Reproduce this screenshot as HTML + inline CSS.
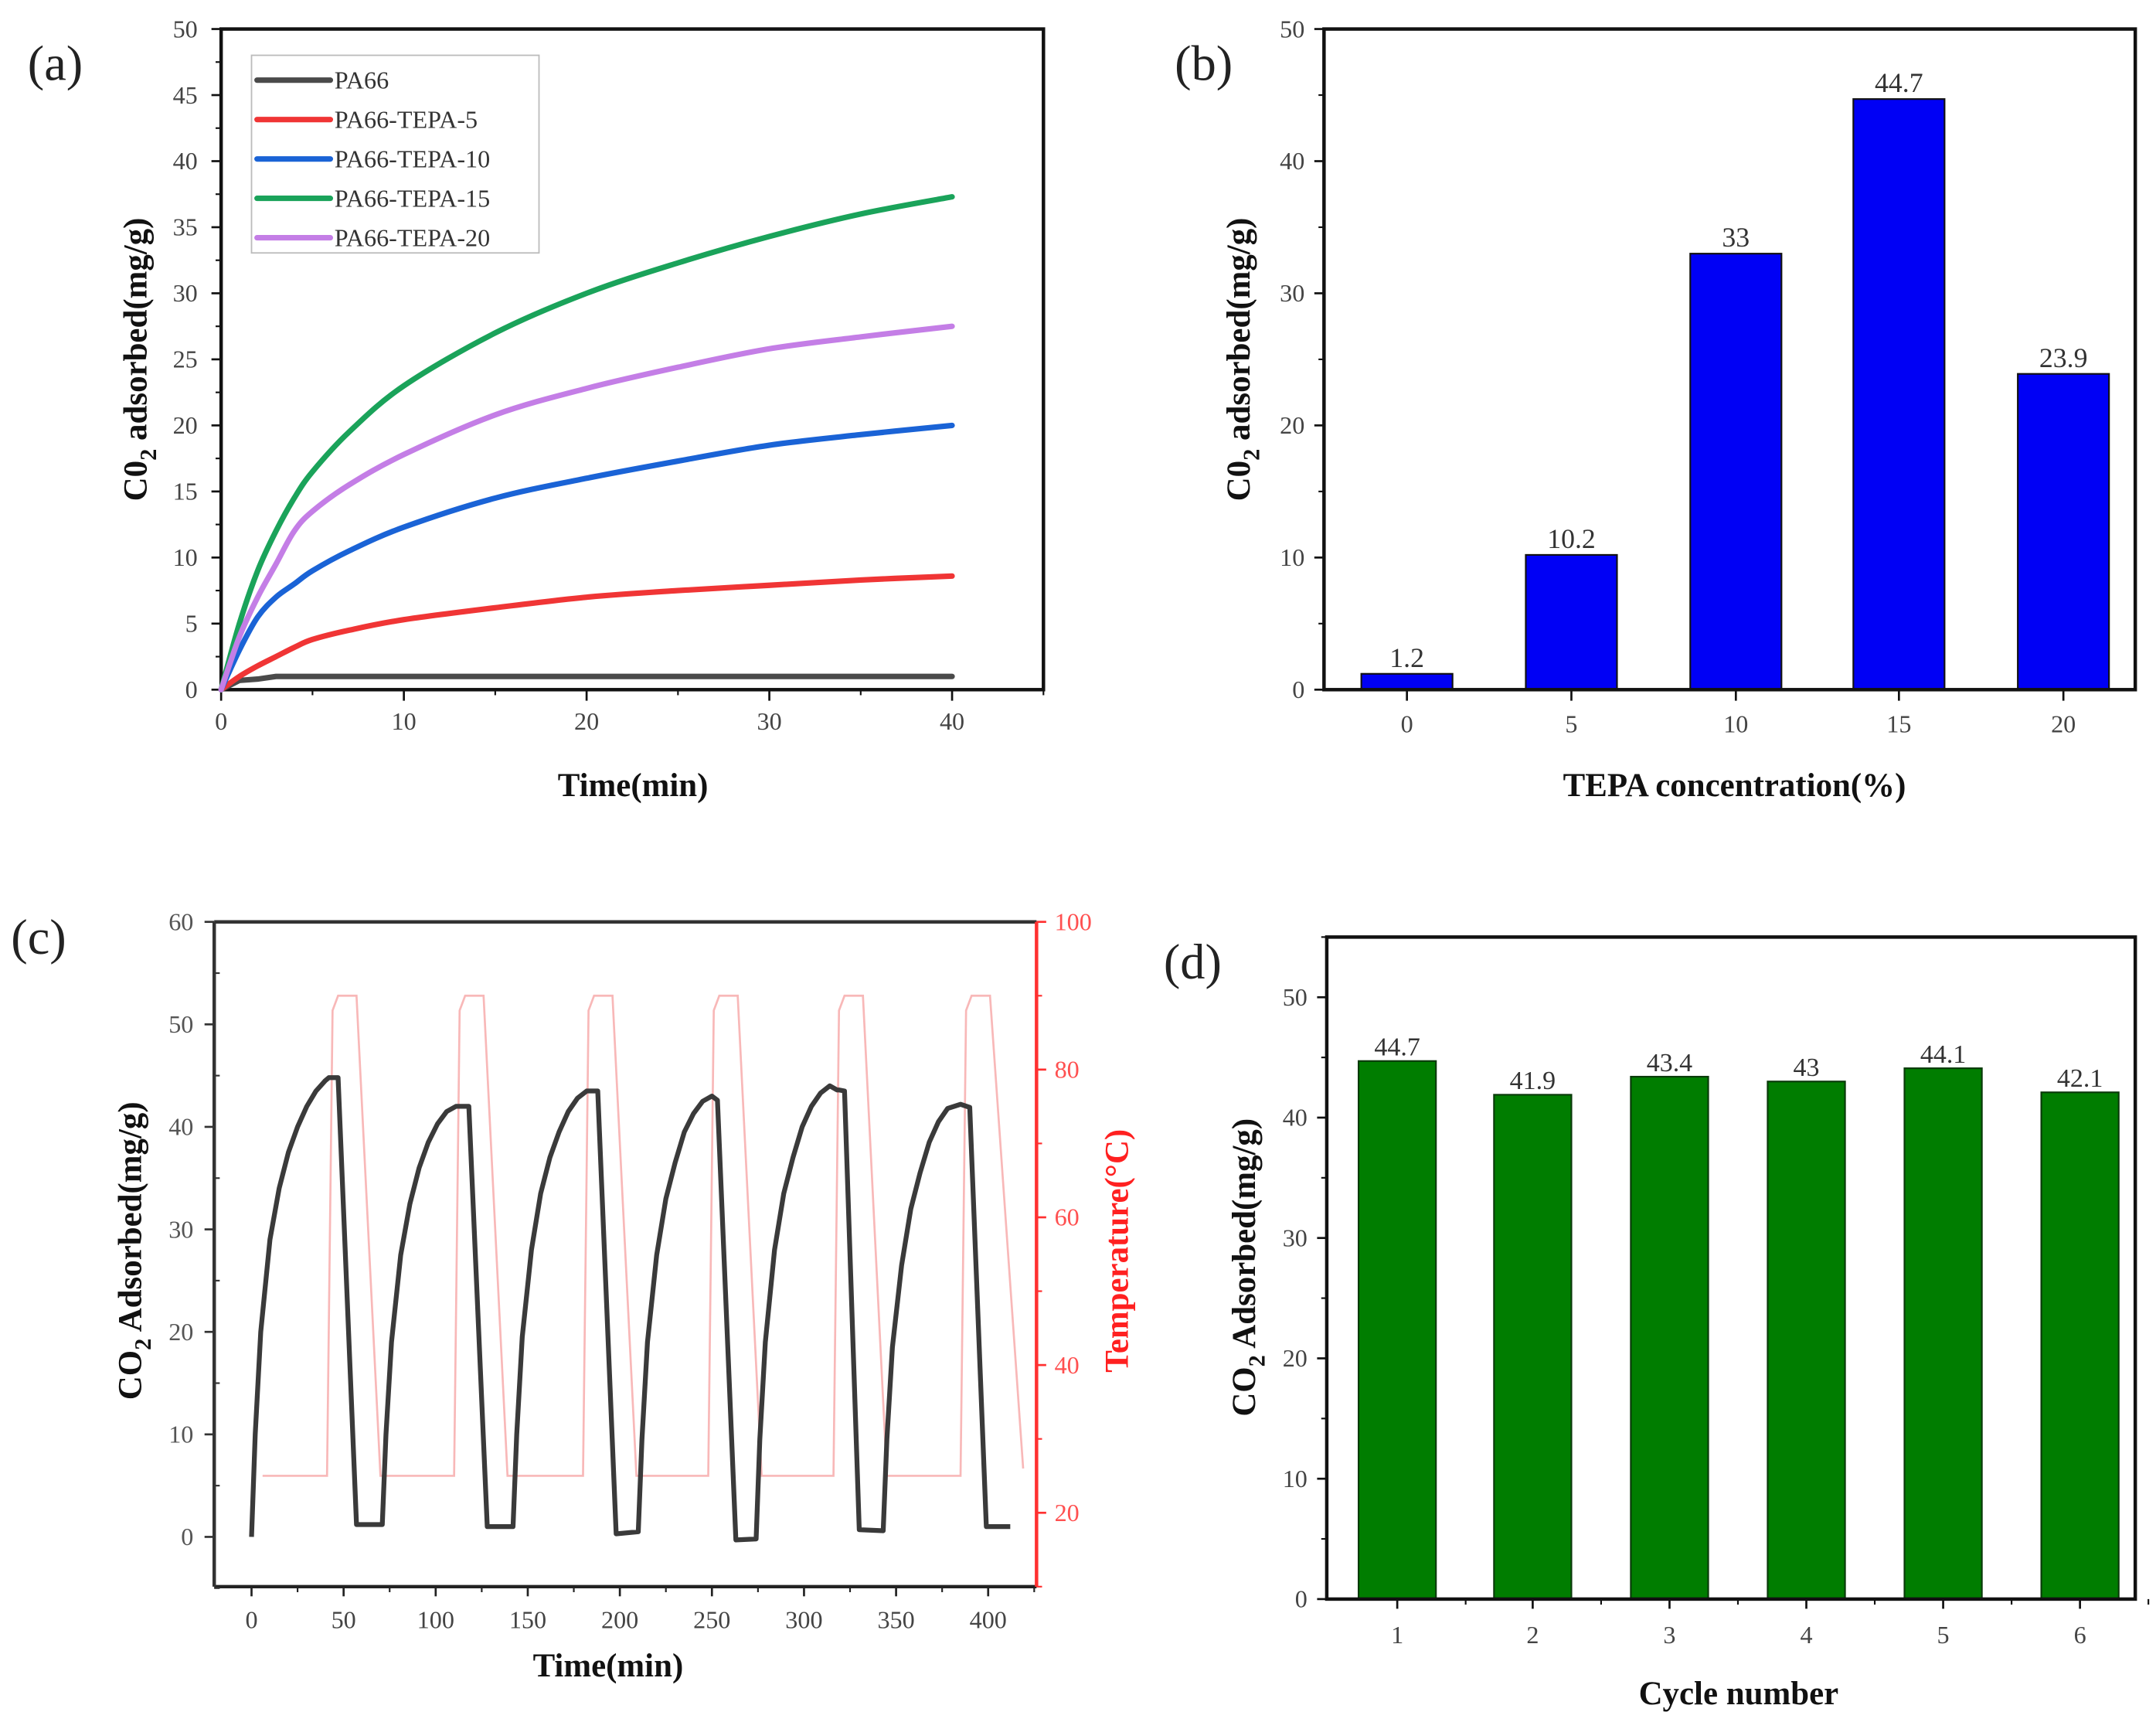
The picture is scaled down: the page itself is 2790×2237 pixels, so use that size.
<!DOCTYPE html>
<html><head><meta charset="utf-8"><style>
html,body{margin:0;padding:0;background:#fff;}
svg{display:block;font-family:"Liberation Serif",serif;}
</style></head><body>
<svg id="fig" width="2790" height="2237" viewBox="0 0 1560 1251" preserveAspectRatio="none"></svg>
<script>
// ---- Panel (a) data ----
const aTime = [0,1,2,3,4,5,7,10,15,20,25,30,35,40];
const aPA66 = [0,0.7,0.8,1,1,1,1,1,1,1,1,1,1,1];
const aT5  = [0,1,1.8,2.5,3.2,3.8,4.5,5.3,6.2,7,7.5,7.9,8.3,8.6];
const aT10 = [0,3,5.5,7,8,9,10.5,12.3,14.5,16,17.3,18.5,19.3,20];
const aT15 = [0,5,9,12,14.5,16.5,19.5,23,27,30,32.3,34.3,36,37.3];
const aT20 = [0,4,7,9.5,12,13.5,15.5,17.8,20.8,22.8,24.4,25.8,26.7,27.5];
const aNames = ["PA66","PA66-TEPA-5","PA66-TEPA-10","PA66-TEPA-15","PA66-TEPA-20"];
const aTicksX = [0,10,20,30,40];
const aTicksY = [0,5,10,15,20,25,30,35,40,45,50];
// ---- Panel (b) data ----
const bCats = ["0","5","10","15","20"];
const bVals = [1.2,10.2,33,44.7,23.9];
const bTicksY = [0,10,20,30,40,50];
// ---- Panel (c) data ----
const cTime = [0,2,5,10,15,20,25,30,35,40,42,47,57,71,73,76,81,86,91,96,101,106,111,118,128,142,144,147,152,157,162,167,172,177,182,188,198,210,212,215,220,225,230,235,240,245,250,253,263,274,276,279,284,289,294,299,304,309,314,318,319,322,330,343,345,348,353,358,363,368,373,378,385,390,399,412];
const cAds  = [0,10,20,29,34,37.5,40,42,43.5,44.5,44.8,44.8,1.2,1.2,10,19,27.5,32.5,36,38.5,40.3,41.5,42,42,1,1,10,19.5,28,33.5,37,39.5,41.5,42.8,43.5,43.5,0.3,0.5,9.5,19,27.5,33,36.5,39.5,41.3,42.5,43,42.6,-0.3,-0.2,9.5,19,28,33.5,37,40,42,43.3,44,43.6,43.6,43.5,0.7,0.6,9.5,18.5,26.5,32,35.5,38.5,40.5,41.8,42.2,41.9,1,1];
const tTime = [6,41,44,47,57,70,110,113,116,126,139,180,183,186,196,209,248,251,254,264,277,316,319,322,332,345,385,388,391,401,419];
const tTemp = [25,25,88,90,90,25,25,88,90,90,25,25,88,90,90,25,25,88,90,90,25,25,88,90,90,25,25,88,90,90,26];
const cTicksX = [0,50,100,150,200,250,300,350,400];
const cTicksY = [0,10,20,30,40,50,60];
const cTicksT = [20,40,60,80,100];
// ---- Panel (d) data ----
const dCats = ["1","2","3","4","5","6"];
const dVals = [44.7,41.9,43.4,43,44.1,42.1];
const dTicksY = [0,10,20,30,40,50];

const NS="http://www.w3.org/2000/svg";
const svg=document.getElementById('fig');
function mk(tag,attrs,parent){const e=document.createElementNS(NS,tag);for(const k in attrs)e.setAttribute(k,attrs[k]);(parent||svg).appendChild(e);return e;}
function txt(x,y,s,size,extra){const e=mk('text',Object.assign({x:x,y:y,'font-size':size,fill:'#222'},extra||{}));e.textContent=s;return e;}
function lin(d0,d1,r0,r1){return v=>r0+(v-d0)*(r1-r0)/(d1-d0);}

// ================= Panel (a) =================
{
const X=lin(0,45,160,755), Y=lin(0,50,499,21);
let e=txt(20,58,"(a)",36,{});


e=mk('rect',{x:160,y:21,width:595,height:478,fill:'none',stroke:'#111','stroke-width':2.5});


aTicksY.forEach(v=>{mk('line',{x1:153,x2:160,y1:Y(v),y2:Y(v),stroke:'#111','stroke-width':1.5});
 const t=txt(143,Y(v)+6,String(v),18,{'text-anchor':'end',fill:'#444'});
 
 
 if(v<50) mk('line',{x1:156,x2:160,y1:Y(v+2.5),y2:Y(v+2.5),stroke:'#111','stroke-width':1.2});});
aTicksX.forEach(v=>{mk('line',{x1:X(v),x2:X(v),y1:499,y2:507,stroke:'#111','stroke-width':1.5});
 mk('line',{x1:X(v+5),x2:X(v+5),y1:499,y2:503,stroke:'#111','stroke-width':1.2});
 const t=txt(X(v),528,String(v),18,{'text-anchor':'middle',fill:'#444'});
 
 });
e=txt(458,576,"Time(min)",24,{'text-anchor':'middle','font-weight':'bold',fill:'#111'});


e=mk('text',{x:0,y:0,'font-size':24,'font-weight':'bold',fill:'#111','text-anchor':'middle',transform:'translate(106,260) rotate(-90)'});
e.innerHTML='C0<tspan font-size="17" dy="7">2</tspan><tspan dy="-7"> adsorbed(mg/g)</tspan>';


const series=[aPA66,aT5,aT10,aT15,aT20];
const cols=['#4a4a4a','#f03535','#1a63d6','#1aa35a','#c47ee6'];
const snames=['line-pa66','line-tepa-5','line-tepa-10','line-tepa-15','line-tepa-20'];
series.forEach((s,i)=>{
 let d='';
 if(i===0){ d=aTime.map((t,j)=>(j?'L':'M')+X(t)+','+Y(s[j])).join(''); }
 else { const p=aTime.map((t,j)=>[X(t),Y(s[j])]); d='M'+p[0];
   for(let j=1;j<p.length;j++){const p0=p[j-2]||p[j-1],p1=p[j-1],p2=p[j],p3=p[j+1]||p[j];
   d+=`C${p1[0]+(p2[0]-p0[0])/6},${p1[1]+(p2[1]-p0[1])/6} ${p2[0]-(p3[0]-p1[0])/6},${p2[1]-(p3[1]-p1[1])/6} ${p2[0]},${p2[1]}`;} }
 const l=mk('path',{d:d,fill:'none',stroke:cols[i],'stroke-width':4,'stroke-linecap':'round'});
 
 
});
e=mk('rect',{x:182,y:40,width:208,height:143,fill:'#fff',stroke:'#bbb','stroke-width':1});


aNames.forEach((n,i)=>{const y=58+i*28.5;
 mk('line',{x1:186,x2:239,y1:y,y2:y,stroke:cols[i],'stroke-width':4,'stroke-linecap':'round'});
 const t=txt(242,y+6,n,18,{fill:'#333'});
 
 });
}

// ================= Panel (b) =================
{
const Y=lin(0,50,499,21); const xs=[1018,1137,1256,1374,1493];
let e=txt(850,58,"(b)",36,{});


bVals.forEach((v,i)=>{const r=mk('rect',{x:xs[i]-33,y:Y(v),width:66,height:499-Y(v),fill:'#0000f5',stroke:'#111','stroke-width':1.2});
 
 
 const t=txt(xs[i],Y(v)-5,String(v),20,{'text-anchor':'middle',fill:'#333'});
 
 });
e=mk('rect',{x:958,y:21,width:587,height:478,fill:'none',stroke:'#111','stroke-width':2.5});


bTicksY.forEach(v=>{mk('line',{x1:951,x2:958,y1:Y(v),y2:Y(v),stroke:'#111','stroke-width':1.5});
 if(v<50) mk('line',{x1:954,x2:958,y1:Y(v+5),y2:Y(v+5),stroke:'#111','stroke-width':1.2});
 const t=txt(944,Y(v)+6,String(v),18,{'text-anchor':'end',fill:'#444'});
 
 });
bCats.forEach((c,i)=>{mk('line',{x1:xs[i],x2:xs[i],y1:499,y2:507,stroke:'#111','stroke-width':1.5});
 const t=txt(xs[i],530,c,18,{'text-anchor':'middle',fill:'#444'});
 
 });
e=txt(1255,576,"TEPA concentration(%)",24,{'text-anchor':'middle','font-weight':'bold',fill:'#111'});


e=mk('text',{x:0,y:0,'font-size':24,'font-weight':'bold',fill:'#111','text-anchor':'middle',transform:'translate(904,260) rotate(-90)'});
e.innerHTML='C0<tspan font-size="17" dy="7">2</tspan><tspan dy="-7"> adsorbed(mg/g)</tspan>';


}

// ================= Panel (c) =================
{
const X=lin(0,400,182,715), Y=lin(0,60,1112,667), T=lin(10,100,1148,667);
let e=txt(8,690,"(c)",36,{});


e=mk('polyline',{points:tTime.map((t,i)=>X(t)+','+T(tTemp[i])).join(' '),fill:'none',stroke:'#f8b8b8','stroke-width':1.5});


e=mk('polyline',{points:cTime.map((t,i)=>X(t)+','+Y(cAds[i])).join(' '),fill:'none',stroke:'#3a3a3a','stroke-width':3.5,'stroke-linejoin':'round'});


mk('line',{x1:155,x2:750,y1:667,y2:667,stroke:'#333','stroke-width':2.5});
mk('line',{x1:155,x2:750,y1:1148,y2:1148,stroke:'#222','stroke-width':2.5});
mk('line',{x1:155,x2:155,y1:667,y2:1148,stroke:'#333','stroke-width':2.5});
mk('line',{x1:750,x2:750,y1:667,y2:1148,stroke:'#ff3030','stroke-width':2.5});
cTicksY.forEach(v=>{mk('line',{x1:148,x2:155,y1:Y(v),y2:Y(v),stroke:'#333','stroke-width':1.5});
 mk('line',{x1:155,x2:159,y1:Y(v-5),y2:Y(v-5),stroke:'#333','stroke-width':1.2});
 const t=txt(140,Y(v)+6,String(v),18,{'text-anchor':'end',fill:'#555'});
 
 });
cTicksT.forEach(v=>{mk('line',{x1:750,x2:757,y1:T(v),y2:T(v),stroke:'#ff3030','stroke-width':1.5});
 mk('line',{x1:750,x2:754,y1:T(v-10),y2:T(v-10),stroke:'#ff3030','stroke-width':1.2});
 const t=txt(763,T(v)+6,String(v),18,{fill:'#ff5050'});
 
 });
cTicksX.forEach(v=>{mk('line',{x1:X(v),x2:X(v),y1:1148,y2:1155,stroke:'#222','stroke-width':1.5});
 mk('line',{x1:X(v+25),x2:X(v+25),y1:1148,y2:1152,stroke:'#222','stroke-width':1.2});
 const t=txt(X(v),1178,String(v),18,{'text-anchor':'middle',fill:'#444'});
 
 });
e=txt(440,1213,"Time(min)",24,{'text-anchor':'middle','font-weight':'bold',fill:'#111'});


e=mk('text',{x:0,y:0,'font-size':24,'font-weight':'bold',fill:'#111','text-anchor':'middle',transform:'translate(102,905) rotate(-90)'});
e.innerHTML='CO<tspan font-size="17" dy="7">2</tspan><tspan dy="-7"> Adsorbed(mg/g)</tspan>';


e=txt(0,0,"Temperature(°C)",24,{'text-anchor':'middle','font-weight':'bold',fill:'#ff2020',transform:'translate(816,905) rotate(-90)'});


}

// ================= Panel (d) =================
{
const Y=lin(0,55,1157,678); const xs=[1011,1109,1208,1307,1406,1505];
let e=txt(842,708,"(d)",36,{});


dVals.forEach((v,i)=>{const r=mk('rect',{x:xs[i]-28,y:Y(v),width:56,height:1157-Y(v),fill:'#007d00',stroke:'#0a3a0a','stroke-width':1.2});
 
 
 const t=txt(xs[i],Y(v)-4,String(v),19,{'text-anchor':'middle',fill:'#333'});
 
 });
e=mk('rect',{x:960,y:678,width:585,height:479,fill:'none',stroke:'#111','stroke-width':2.5});


dTicksY.forEach(v=>{mk('line',{x1:953,x2:960,y1:Y(v),y2:Y(v),stroke:'#111','stroke-width':1.5});
 mk('line',{x1:956,x2:960,y1:Y(v+5),y2:Y(v+5),stroke:'#111','stroke-width':1.2});
 const t=txt(946,Y(v)+6,String(v),18,{'text-anchor':'end',fill:'#444'});
 
 });
dCats.forEach((c,i)=>{mk('line',{x1:xs[i],x2:xs[i],y1:1157,y2:1164,stroke:'#111','stroke-width':1.5});
 mk('line',{x1:xs[i]+49.5,x2:xs[i]+49.5,y1:1157,y2:1161,stroke:'#111','stroke-width':1.2});
 const t=txt(xs[i],1189,c,18,{'text-anchor':'middle',fill:'#444'});
 
 });
e=txt(1258,1233,"Cycle number",24,{'text-anchor':'middle','font-weight':'bold',fill:'#111'});


e=mk('text',{x:0,y:0,'font-size':24,'font-weight':'bold',fill:'#111','text-anchor':'middle',transform:'translate(908,917) rotate(-90)'});
e.innerHTML='CO<tspan font-size="17" dy="7">2</tspan><tspan dy="-7"> Adsorbed(mg/g)</tspan>';


}
</script>
</body></html>
